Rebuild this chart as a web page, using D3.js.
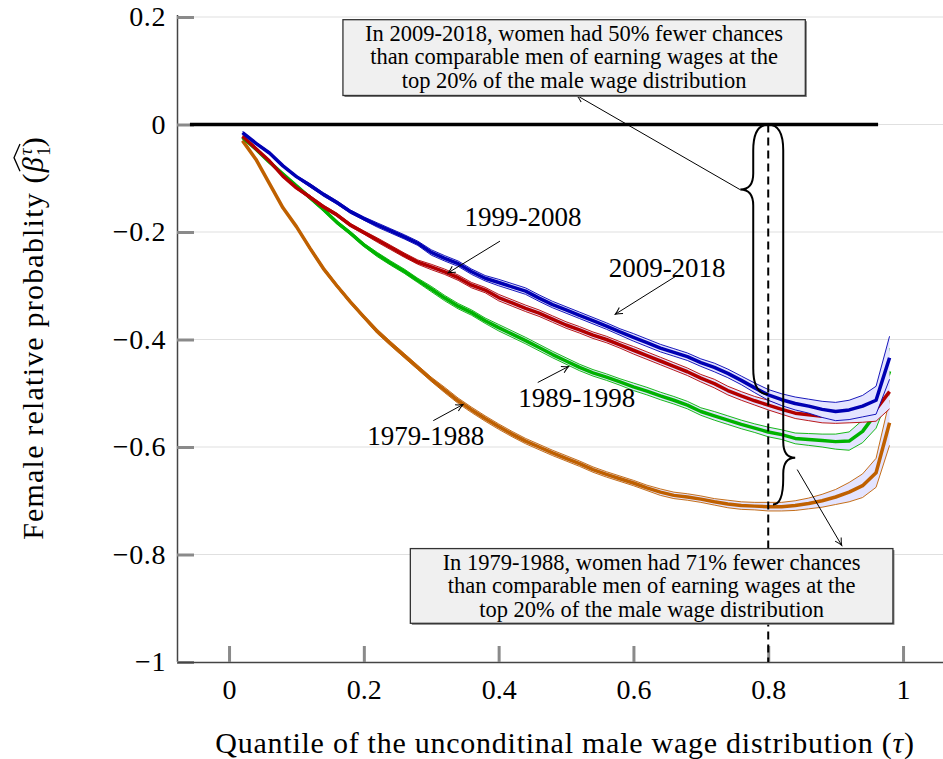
<!DOCTYPE html>
<html><head><meta charset="utf-8">
<script src="https://cdn.jsdelivr.net/npm/d3@7"></script>
<style>
body{margin:0;background:#fff}
text{font-family:"Liberation Serif","DejaVu Serif",serif;fill:#000}
</style>
</head><body>
<svg id="chart" width="943" height="759"></svg>
<script>
// ---------- DATA ----------
const quantiles = [0.02,0.04,0.06,0.08,0.10,0.12,0.14,0.16,0.18,0.20,0.22,0.24,0.26,0.28,0.30,0.32,0.34,0.36,0.38,0.40,
  0.42,0.44,0.46,0.48,0.50,0.52,0.54,0.56,0.58,0.60,0.62,0.64,0.66,0.68,0.70,0.72,0.74,0.76,0.78,0.80,
  0.82,0.84,0.86,0.88,0.90,0.92,0.94,0.96,0.98];

const periods = ["1979-1988","1989-1998","1999-2008","2009-2018"];

const est1979 = [-0.030,-0.065,-0.110,-0.155,-0.190,-0.230,-0.268,-0.300,-0.330,-0.358,-0.385,-0.408,-0.430,-0.452,-0.474,-0.494,-0.514,-0.531,-0.547,-0.562,
  -0.576,-0.589,-0.600,-0.611,-0.621,-0.631,-0.642,-0.651,-0.659,-0.667,-0.676,-0.684,-0.690,-0.693,-0.697,-0.702,-0.706,-0.709,-0.710,-0.711,
  -0.711,-0.709,-0.705,-0.700,-0.693,-0.684,-0.672,-0.648,-0.555];
const hw1979 = [0.002,0.002,0.002,0.002,0.002,0.003,0.003,0.003,0.003,0.003,0.004,0.004,0.004,0.004,0.004,0.005,0.005,0.005,0.005,0.005,
  0.005,0.005,0.005,0.005,0.005,0.005,0.005,0.005,0.005,0.005,0.005,0.006,0.006,0.006,0.006,0.006,0.007,0.007,0.007,0.008,
  0.008,0.009,0.010,0.012,0.014,0.018,0.022,0.027,0.042];

const est1989 = [-0.024,-0.046,-0.070,-0.092,-0.114,-0.136,-0.158,-0.182,-0.202,-0.224,-0.242,-0.258,-0.273,-0.290,-0.306,-0.323,-0.338,-0.350,-0.365,-0.378,
  -0.390,-0.402,-0.415,-0.428,-0.440,-0.452,-0.462,-0.470,-0.479,-0.488,-0.496,-0.505,-0.513,-0.522,-0.534,-0.542,-0.550,-0.558,-0.565,-0.572,
  -0.577,-0.584,-0.586,-0.588,-0.590,-0.589,-0.571,-0.537,-0.459];
const hw1989 = [0.002,0.002,0.002,0.002,0.002,0.003,0.003,0.003,0.003,0.003,0.004,0.004,0.004,0.004,0.005,0.005,0.005,0.005,0.005,0.006,
  0.006,0.006,0.006,0.006,0.006,0.006,0.006,0.006,0.006,0.007,0.007,0.007,0.007,0.007,0.007,0.008,0.008,0.008,0.008,0.009,
  0.009,0.010,0.011,0.012,0.014,0.017,0.021,0.028,0.043];

const est1999 = [-0.022,-0.045,-0.068,-0.096,-0.118,-0.135,-0.153,-0.168,-0.187,-0.201,-0.215,-0.229,-0.243,-0.256,-0.265,-0.274,-0.285,-0.299,-0.308,-0.322,
  -0.332,-0.342,-0.351,-0.362,-0.373,-0.382,-0.392,-0.400,-0.410,-0.420,-0.430,-0.440,-0.450,-0.460,-0.472,-0.482,-0.495,-0.505,-0.514,-0.522,
  -0.530,-0.537,-0.540,-0.543,-0.543,-0.540,-0.536,-0.530,-0.497];
const hw1999 = [0.002,0.002,0.002,0.002,0.002,0.003,0.003,0.003,0.003,0.003,0.004,0.004,0.004,0.004,0.005,0.005,0.005,0.005,0.005,0.006,
  0.006,0.006,0.006,0.006,0.006,0.006,0.006,0.006,0.006,0.007,0.007,0.007,0.007,0.007,0.007,0.008,0.008,0.008,0.008,0.009,
  0.009,0.010,0.011,0.012,0.013,0.015,0.018,0.022,0.032];

const est2009 = [-0.015,-0.035,-0.053,-0.077,-0.097,-0.113,-0.130,-0.145,-0.162,-0.175,-0.187,-0.198,-0.209,-0.221,-0.238,-0.249,-0.259,-0.274,-0.286,-0.294,
  -0.302,-0.310,-0.323,-0.335,-0.345,-0.355,-0.365,-0.375,-0.386,-0.396,-0.406,-0.416,-0.424,-0.432,-0.443,-0.452,-0.463,-0.476,-0.490,-0.503,
  -0.512,-0.519,-0.524,-0.530,-0.534,-0.531,-0.524,-0.513,-0.434];
const hw2009 = [0.002,0.002,0.002,0.002,0.002,0.003,0.003,0.003,0.003,0.003,0.004,0.004,0.004,0.004,0.005,0.005,0.005,0.005,0.005,0.006,
  0.006,0.006,0.006,0.006,0.006,0.006,0.006,0.006,0.006,0.007,0.007,0.007,0.007,0.007,0.007,0.008,0.008,0.008,0.009,0.010,
  0.011,0.012,0.013,0.015,0.017,0.018,0.020,0.026,0.040];

const xTicks = [0,0.2,0.4,0.6,0.8,1];
const yTicks = [0.2,0,-0.2,-0.4,-0.6,-0.8,-1];
const seriesColors = ["#bf6000","#00b300","#b30000","#0000b3"];
const boxTexts = [
  ["In 2009-2018, women had 50% fewer chances","than comparable men of earning wages at the","top 20% of the male wage distribution"],
  ["In 1979-1988, women had 71% fewer chances","than comparable men of earning wages at the","top 20% of the male wage distribution"]
];

// ---------- CHART ----------
const svg = d3.select("#chart");
const x = d3.scaleLinear().domain([-0.0772, 1.0593]).range([177, 943]);
const y = d3.scaleLinear().domain([-1, 0.2]).range([662, 17]);

const series = [
  {name:periods[0], v:est1979, h:hw1979, c:seriesColors[0]},
  {name:periods[1], v:est1989, h:hw1989, c:seriesColors[1]},
  {name:periods[2], v:est1999, h:hw1999, c:seriesColors[2]},
  {name:periods[3], v:est2009, h:hw2009, c:seriesColors[3]}
];

const defs = svg.append("defs");
defs.append("marker").attr("id","arr").attr("viewBox","-8 -5 10 10")
  .attr("refX",0).attr("refY",0).attr("markerWidth",10).attr("markerHeight",10)
  .attr("markerUnits","userSpaceOnUse").attr("orient","auto")
  .append("path").attr("d","M-7,-3.5 Q-3,-1 0,0 Q-3,1 -7,3.5").attr("fill","none")
  .attr("stroke","#000").attr("stroke-width",1);

// gridlines
svg.append("g").selectAll("line").data(yTicks.filter(d=>d>-1)).join("line")
  .attr("x1",x.range()[0]).attr("x2",x.range()[1])
  .attr("y1",d=>y(d)).attr("y2",d=>y(d))
  .attr("stroke","#e0e0e0").attr("stroke-width",1.2);

const fmt = d => (Math.round(d*10)/10).toString().replace("-","\u2212");

const gy = svg.append("g").attr("transform",`translate(${x.range()[0]},0)`)
  .call(d3.axisLeft(y).tickValues(yTicks).tickSize(-17).tickSizeOuter(0).tickPadding(11).tickFormat(fmt));
const gx = svg.append("g").attr("transform",`translate(0,${y(-1)})`)
  .call(d3.axisBottom(x).tickValues(xTicks).tickSize(-16).tickSizeOuter(0).tickPadding(17).tickFormat(fmt));
[gx,gy].forEach(g=>{
  g.select(".domain").attr("stroke","#444").attr("stroke-width",1.5);
  g.selectAll(".tick line").attr("stroke","#8a8a8a").attr("stroke-width",3);
  g.selectAll(".tick text").attr("font-family","Liberation Serif").attr("font-size",28).attr("fill","#000");
});
gy.selectAll(".tick text").attr("letter-spacing",0.6);
gy.select(".domain").attr("d",`M0.5,${y(0.2)-2}V${y(-1)}`);

// zero reference line
svg.append("line").attr("x1",x(-0.058)).attr("x2",x(0.963)).attr("y1",y(0)).attr("y2",y(0))
  .attr("stroke","#000").attr("stroke-width",3.5);

// series bands & lines
const area = d3.area().x((d,i)=>x(quantiles[i]));
const line = d3.line().x((d,i)=>x(quantiles[i]));
series.forEach(s=>{
  const g = svg.append("g");
  g.append("path").datum(s.v)
    .attr("d", area.y0((d,i)=>y(d - s.h[i])).y1((d,i)=>y(d + s.h[i])))
    .attr("fill","#e4e4ff");
  g.append("path").datum(s.v).attr("d", line.y((d,i)=>y(d + s.h[i])))
    .attr("fill","none").attr("stroke",s.c).attr("stroke-width",0.9);
  g.append("path").datum(s.v).attr("d", line.y((d,i)=>y(d - s.h[i])))
    .attr("fill","none").attr("stroke",s.c).attr("stroke-width",0.9);
  g.append("path").datum(s.v).attr("d", line.y(d=>y(d)))
    .attr("fill","none").attr("stroke",s.c).attr("stroke-width",3.5).attr("stroke-linejoin","round");
});

// dashed vertical at tau=0.8
svg.append("line").attr("x1",x(0.8)).attr("x2",x(0.8)).attr("y1",y(0)).attr("y2",y(-1))
  .attr("stroke","#000").attr("stroke-width",2).attr("stroke-dasharray","8,5");

// braces
function brace(x0, yTop, yBot, yTip, dir, w, tipW, rEnd, rTip, xBot){
  const xv = x0 + dir*w, xt = x0 + dir*(w+tipW);
  const xb = xBot===undefined ? x0 : xBot;
  return `M${x0},${yTop} Q${xv},${yTop} ${xv},${yTop+rEnd} L${xv},${yTip-rTip} Q${xv},${yTip} ${xt},${yTip}`+
         ` Q${xv},${yTip} ${xv},${yTip+rTip} L${xv},${yBot-rEnd} Q${xv},${yBot} ${xb},${yBot}`;
}
svg.append("path").attr("d", brace(x(0.8), y(0), y(-0.502), y(-0.121), -1, 15, 13, 26, 16))
  .attr("fill","none").attr("stroke","#000").attr("stroke-width",2);
svg.append("path").attr("d", brace(x(0.8), y(0), y(-0.707), y(-0.62), 1, 15, 12, 26, 16, x(0.807)))
  .attr("fill","none").attr("stroke","#000").attr("stroke-width",2);

// annotation arrows
const arrows = [
  [0.758,-0.121, 0.516, 0.054],
  [0.843,-0.642, 0.909,-0.783],
  [0.402,-0.217, 0.325,-0.276],
  [0.662,-0.283, 0.573,-0.353],
  [0.458,-0.480, 0.504,-0.450],
  [0.303,-0.551, 0.347,-0.521]
];
svg.append("g").selectAll("line").data(arrows).join("line")
  .attr("x1",d=>x(d[0])).attr("y1",d=>y(d[1])).attr("x2",d=>x(d[2])).attr("y2",d=>y(d[3]))
  .attr("stroke","#000").attr("stroke-width",1).attr("marker-end","url(#arr)");

// series labels
const labelPos = [[0.292,-0.596],[0.516,-0.526],[0.436,-0.188],[0.650,-0.284]];
svg.append("g").selectAll("text").data(series).join("text")
  .attr("x",(d,i)=>x(labelPos[i][0])).attr("y",(d,i)=>y(labelPos[i][1]))
  .attr("text-anchor","middle").attr("font-size",27).text(d=>d.name);

// boxes
const boxes = [
  {x0:0.169, x1:0.855, y0:0.195, y1:0.054, t:boxTexts[0]},
  {x0:0.269, x1:0.985, y0:-0.789, y1:-0.928, t:boxTexts[1]}
];
boxes.forEach(b=>{
  const g = svg.append("g");
  const bx = x(b.x0), bw = x(b.x1)-x(b.x0), by = y(b.y0), bh = y(b.y1)-y(b.y0);
  g.append("rect").attr("x",bx+1.5).attr("y",by+1.5).attr("width",bw).attr("height",bh).attr("fill","#777");
  g.append("rect").attr("x",bx).attr("y",by).attr("width",bw).attr("height",bh)
    .attr("fill","#f0f0f0").attr("stroke","#333").attr("stroke-width",1.3);
  b.t.forEach((t,i)=>{
    g.append("text").attr("x",bx+bw/2).attr("y",by+21+i*23.5).attr("text-anchor","middle")
      .attr("font-size",22.5).text(t);
  });
});

// axis titles
const xl = svg.append("text").attr("x",565).attr("y",753).attr("text-anchor","middle")
  .attr("font-size",30).attr("letter-spacing",0.75);
xl.append("tspan").text("Quantile of the unconditinal male wage distribution (");
xl.append("tspan").attr("font-style","italic").text("\u03C4");
xl.append("tspan").text(")");

const yl = svg.append("text").attr("transform","translate(43,338) rotate(-90)").attr("text-anchor","middle")
  .attr("font-size",30).attr("letter-spacing",1.2);
yl.append("tspan").text("Female relative probablity (");
const beta = yl.append("tspan").attr("font-style","italic").text("\u03B2");
yl.append("tspan").attr("font-size",19).attr("dy",7).text("1");
yl.append("tspan").attr("font-size",19).attr("font-style","italic").attr("dx",-10).attr("dy",-18).text("\u03C4");
yl.append("tspan").attr("dy",11).text(")");
// hat over beta, positioned from the rendered glyph extent
const ylNode = yl.node();
const prefixLen = "Female relative probablity (".length;
const ext = ylNode.getExtentOfChar(prefixLen);
const hx0 = ext.x + 1, hx1 = ext.x + ext.width + 12, hy = ext.y + 1;
svg.append("path").attr("transform","translate(43,338) rotate(-90)")
  .attr("d",`M${hx0},${hy+3} L${(hx0+hx1)/2},${hy-3} L${hx1},${hy+3}`)
  .attr("fill","none").attr("stroke","#000").attr("stroke-width",1.3);
</script>
</body></html>
